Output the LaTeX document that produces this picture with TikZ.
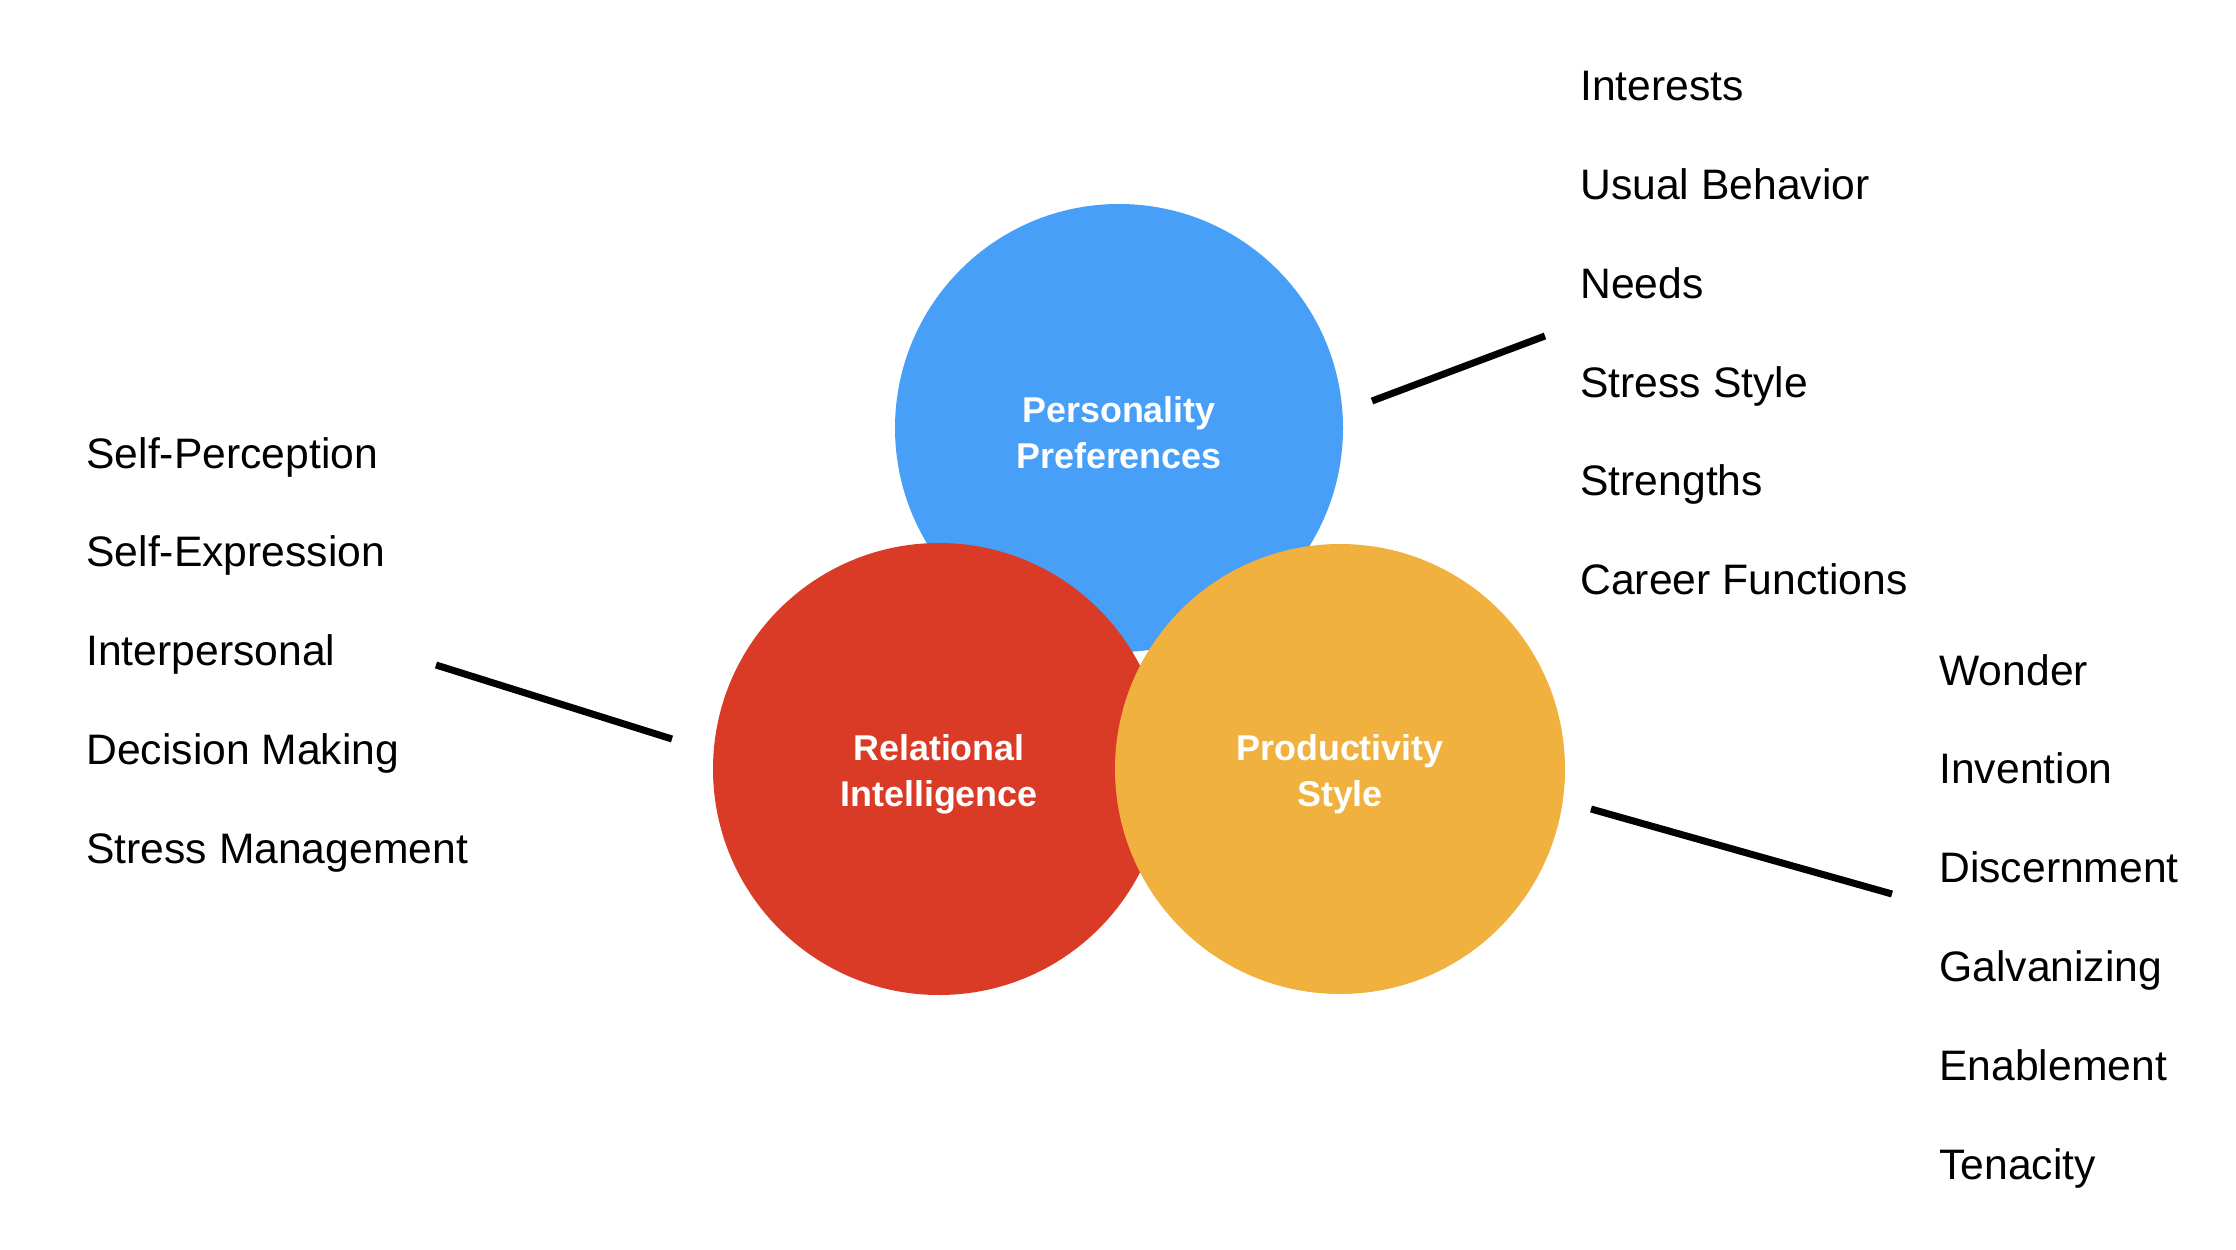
\documentclass[tikz,border=0pt]{standalone}
\usepackage{fontspec}
\setmainfont{Liberation Sans}
\definecolor{ppblue}{HTML}{489FF7}
\definecolor{rired}{HTML}{DA3B27}
\definecolor{psorange}{HTML}{F1B13E}
\begin{document}
\begin{tikzpicture}[x=0.5bp,y=-0.5bp,
  bigcirc/.style={circle, inner sep=0pt},
  ctext/.style={inner sep=0pt, text=white, align=center,
    font=\fontsize{18}{23}\selectfont\bfseries},
  item/.style={anchor=base west, inner sep=0pt, font=\fontsize{21.4}{25}\selectfont},
  link/.style={line width=3.5bp, black}]
\fill[white] (0,0) rectangle (2236,1250);
\useasboundingbox (0,0) rectangle (2236,1250);
% circles
\node[bigcirc, fill=ppblue, minimum size=224bp] (pp) at (1119,428) {};
\node[bigcirc, fill=rired, minimum size=226bp] (ri) at (939,769) {};
\node[bigcirc, fill=psorange, minimum size=225bp] (ps) at (1340,769) {};
\node[ctext] (ppt) at (1119,433) {Personality\\Preferences};
\node[ctext] (rit) at (939,774) {Relational\\Intelligence};
\node[ctext] (pst) at (1340,774) {Productivity\\Style};
% upper right list
\node[item] (u1) at (1580,101) {Interests};
\node[item] (u2) at (1580,199.7) {Usual Behavior};
\node[item] (u3) at (1580,298.4) {Needs};
\node[item] (u4) at (1580,397.1) {Stress Style};
\node[item] (u5) at (1580,495.8) {Strengths};
\node[item] (u6) at (1580,594.5) {Career Functions};
% left list
\node[item] (l1) at (86,468) {Self-Perception};
\node[item] (l2) at (86,566.8) {Self-Expression};
\node[item] (l3) at (86,665.6) {Interpersonal};
\node[item] (l4) at (86,764.4) {Decision Making};
\node[item] (l5) at (86,863.2) {Stress Management};
% lower right list
\node[item] (d1) at (1939,685) {Wonder};
\node[item] (d2) at (1939,783.8) {Invention};
\node[item] (d3) at (1939,882.6) {Discernment};
\node[item] (d4) at (1939,981.4) {Galvanizing};
\node[item] (d5) at (1939,1080.2) {Enablement};
\node[item] (d6) at (1939,1179) {Tenacity};
% connector end points
\coordinate (ppA) at (1372,401);
\coordinate (ppB) at (1545,336);
\coordinate (riA) at (672,739);
\coordinate (riB) at (436,665);
\coordinate (psA) at (1591,809);
\coordinate (psB) at (1892,894);
\draw[link] (ppA) -- (ppB);
\draw[link] (riA) -- (riB);
\draw[link] (psA) -- (psB);
\end{tikzpicture}
\end{document}
